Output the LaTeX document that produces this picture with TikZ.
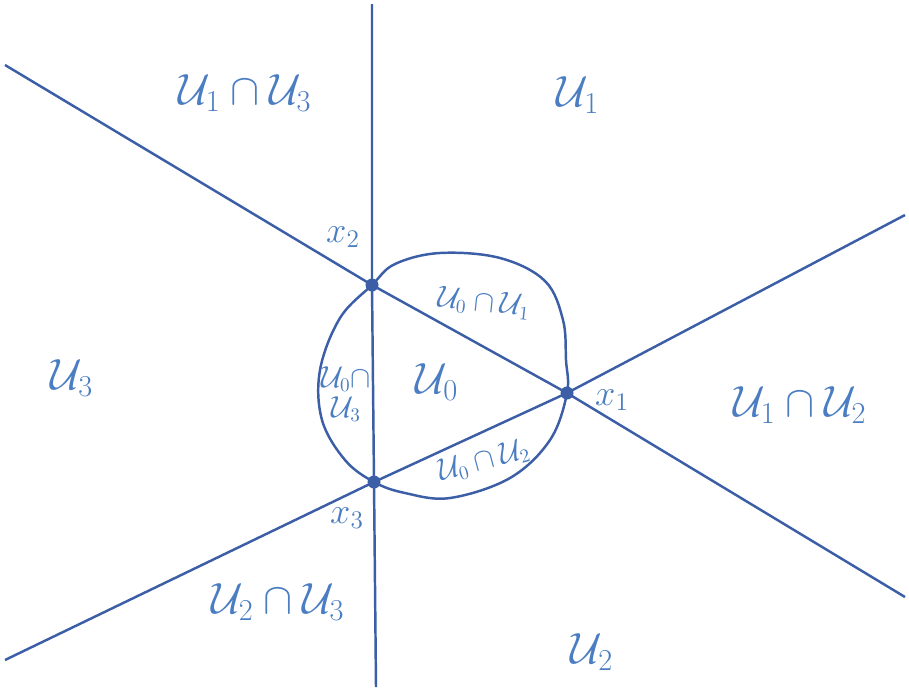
\documentclass[tikz,border=0pt]{standalone}
\usepackage{amsmath}
\usetikzlibrary{positioning}
\definecolor{inkblue}{HTML}{3B5EA6}
\definecolor{textblue}{HTML}{4A7DC2}
\tikzset{
  ray/.style={draw=inkblue, line width=1.4pt},
  rim/.style={draw=inkblue, line width=1.4pt},
  vertex/.style={circle, fill=inkblue, inner sep=0pt, minimum size=0.26cm},
  region/.style={text=textblue, font=\fontsize{26}{30}\selectfont, inner sep=1pt},
  subregion/.style={text=textblue, font=\fontsize{16}{17}\selectfont, inner sep=0pt, align=center},
  pointlabel/.style={text=textblue, font=\fontsize{22}{26}\selectfont, inner sep=1pt}
}
\begin{document}
\begin{tikzpicture}[x=0.02cm, y=-0.02cm]
\useasboundingbox[fill=white] (0,0) rectangle (909,687);
% triangle vertices
\node[vertex] (x2) at (372,285) {};
\node[vertex] (x1) at (567,393) {};
\node[vertex] (x3) at (374,482) {};
% free ends of the three lines
\coordinate (vtop) at (372,4);
\coordinate (vbot) at (376,687);
\coordinate (aleft) at (5,65);
\coordinate (aright) at (905,597);
\coordinate (bleft) at (5,660);
\coordinate (bright) at (905,215);
\draw[ray] (vtop) -- (x2.center) -- (x3.center) -- (vbot);
\draw[ray] (aleft) -- (x2.center) -- (x1.center) -- (aright);
\draw[ray] (bleft) -- (x3.center) -- (x1.center) -- (bright);
% the disc U_0
\draw[rim] plot[smooth cycle, tension=0.6] coordinates {(372,285) (395,264) (440,253) (500,258) (545,281) (563,320) (566,360) (567,393) (550,440) (510,478) (450,498) (405,493) (374,482) (345,460) (322,420) (320,370) (340,318)};
% labels
\node[region] (u13) at (245,93) {$\mathcal{U}_1\cap\mathcal{U}_3$};
\node[region] (u1) at (578,95) {$\mathcal{U}_1$};
\node[region] (u3) at (72,378) {$\mathcal{U}_3$};
\node[region] (u12) at (800,405) {$\mathcal{U}_1\cap\mathcal{U}_2$};
\node[region] (u23) at (278,602) {$\mathcal{U}_2\cap\mathcal{U}_3$};
\node[region] (u2) at (592,652) {$\mathcal{U}_2$};
\node[region] (u0) at (437,382) {$\mathcal{U}_0$};
\node[subregion, rotate=-6] (u01) at (484,303) {$\mathcal{U}_0\cap\mathcal{U}_1$};
\node[subregion] (u03) at (346,394) {$\mathcal{U}_0\cap$\\$\mathcal{U}_3$};
\node[subregion, rotate=15] (u02) at (484,461) {$\mathcal{U}_0\cap\mathcal{U}_2$};
\node[pointlabel] (lx2) at (343,237) {$x_2$};
\node[pointlabel] (lx1) at (612,400) {$x_1$};
\node[pointlabel] (lx3) at (347,518) {$x_3$};
\end{tikzpicture}
\end{document}
